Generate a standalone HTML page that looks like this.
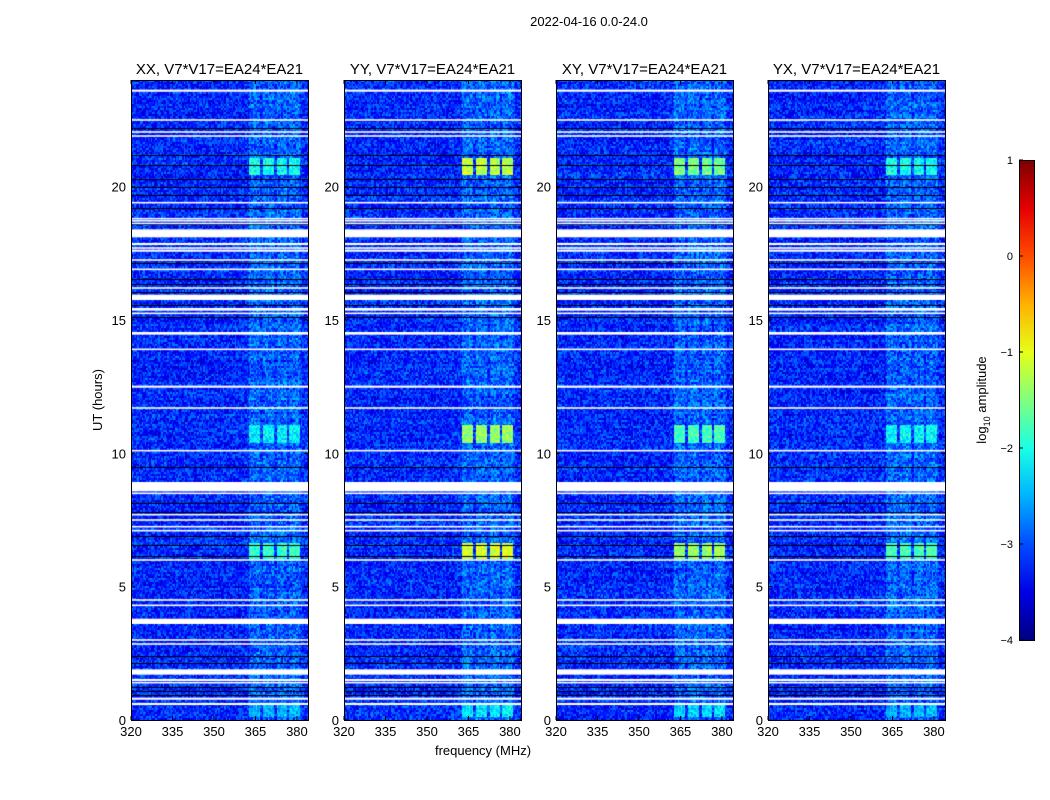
<!DOCTYPE html>
<html><head><meta charset="utf-8"><style>
body{margin:0;background:#fff;width:1050px;height:800px;overflow:hidden;position:relative;font-family:"Liberation Sans",sans-serif}
canvas{position:absolute}
svg{position:absolute;left:0;top:0}
</style></head><body>
<div id="wrap"></div>
<svg id="svg" width="1050" height="800"></svg>
<script>
const panelTitles=["XX, V7*V17=EA24*EA21","YY, V7*V17=EA24*EA21","XY, V7*V17=EA24*EA21","YX, V7*V17=EA24*EA21"];
const panelLefts=[131,344,556,768];
const xTicks=[320,335,350,365,380];
const yTicks=[0,5,10,15,20];
const cbTicks=[1,0,-1,-2,-3,-4];
const flaggedWhite=[[23.6,.08],[22.5,.06],[22.05,.06],[21.9,.06],[19.4,.06],[18.8,.06],[18.72,.05],[18.62,.05],[18.25,.3],[17.85,.08],[17.7,.06],[17.6,.08],[17.25,.06],[16.9,.06],[16.2,.06],[15.85,.2],[15.4,.1],[15.25,.06],[14.5,.1],[13.9,.06],[12.5,.08],[11.7,.06],[10.1,.06],[8.75,.35],[8.5,.06],[7.7,.06],[7.5,.06],[7.25,.06],[7.1,.06],[6.0,.06],[4.5,.06],[4.3,.06],[3.7,.2],[3.0,.06],[2.85,.06],[1.8,.2],[1.5,.08],[1.4,.06],[0.8,.08],[0.6,.08]];
const flaggedDark=[22.2,21.2,20.8,20.3,20.0,19.7,19.2,18.6,17.15,16.55,16.35,16.05,15.95,15.55,15.1,9.5,8.8,8.15,7.8,6.9,6.55,6.15,2.4,2.15,1.25,1.1,0.95];
const bandCenters=[364.5,369.5,374.5,379];
const eventTimes=[[20.45,21.1],[10.4,11.1],[6.05,6.65],[0.15,0.6]];
const eventStrength=[[0.45,0.42,0.48,0.36],[0.62,0.58,0.64,0.42],[0.55,0.5,0.58,0.4],[0.45,0.43,0.5,0.36]];

const W=177,H=640,TOP=80,F0=320,F1=384,T1=24;
const xs=f=>(f-F0)/(F1-F0)*W, ys=t=>H-t/T1*H;
function jet(v){v=Math.max(0,Math.min(1,v));
 const r=Math.min(4*v-1.5,-4*v+4.5),g=Math.min(4*v-0.5,-4*v+3.5),b=Math.min(4*v+0.5,-4*v+2.5);
 return [255*Math.max(0,Math.min(1,r)),255*Math.max(0,Math.min(1,g)),255*Math.max(0,Math.min(1,b))];}
function hash(a,b,c){let h=(a*374761393+b*668265263+c*2147483647)|0;h=(h^(h>>>13))*1274126177|0;return ((h^(h>>>16))>>>0)/4294967296;}
const svg=document.getElementById('svg');const NS="http://www.w3.org/2000/svg";
function el(tag,attrs,name,text){const e=document.createElementNS(NS,tag);for(const k in attrs)e.setAttribute(k,attrs[k]);
 
 
 if(text!==undefined)e.textContent=text;svg.appendChild(e);return e;}
panelLefts.forEach((L,p)=>{
 const c=document.createElement('canvas');c.width=W;c.height=H;c.style.left=L+'px';c.style.top=TOP+'px';
 
 
 document.body.insertBefore(c,svg);
 const ctx=c.getContext('2d');const img=ctx.createImageData(W,H);
 for(let y=0;y<H;y++){const t=(H-y)/H*T1;const row=Math.floor(y/2);
  let ev=0;eventTimes.forEach((e,i)=>{if(t>=e[0]&&t<=e[1])ev=eventStrength[p][i];});
  for(let x=0;x<W;x++){const f=F0+x/W*(F1-F0);const col=Math.floor(x/1.5);
   let v=0.16+(hash(col,row,p)-0.5)*0.18+(hash(row,7,p)-0.5)*0.04;
   if(f>362.5&&f<381.5){v+=0.025;bandCenters.forEach(bc=>{const d=Math.abs(f-bc);if(d<1.9){v+=0.035*hash(row,col,3)+0.02;if(ev)v=Math.max(v,ev-0.06+(hash(col,row,9)-0.5)*0.14);}});}
   const [r,g,b]=jet(v);const i=(y*W+x)*4;img.data[i]=r;img.data[i+1]=g;img.data[i+2]=b;img.data[i+3]=255;}}
 ctx.putImageData(img,0,0);
 flaggedDark.forEach(t=>{ctx.fillStyle='#000';ctx.fillRect(0,Math.round(ys(t)),W,1);});
 flaggedWhite.forEach(([t,w])=>{ctx.fillStyle='#fff';const h=Math.max(1.5,w/T1*H);ctx.fillRect(0,ys(t)-h/2,W,h);});
 el('rect',{x:L+.5,y:TOP+.5,width:W,height:H,fill:'none',stroke:'#000','stroke-width':1},'panel-frame-'+(p+1));
 el('text',{x:L+W/2,y:74,'text-anchor':'middle','font-size':15},'panel-title-'+(p+1),panelTitles[p]);
 xTicks.forEach(v=>{const x=L+xs(v);
  el('line',{x1:x,x2:x,y1:TOP+H,y2:TOP+H-4,stroke:'#000'},'x-tick');
  el('line',{x1:x,x2:x,y1:TOP,y2:TOP+4,stroke:'#000'},'x-tick-top');
  el('text',{x:x,y:736,'text-anchor':'middle','font-size':13},'x-tick-label',v);});
 yTicks.forEach(v=>{const y=TOP+ys(v);
  el('line',{x1:L,x2:L+4,y1:y,y2:y,stroke:'#000'},'y-tick');
  el('line',{x1:L+W,x2:L+W-4,y1:y,y2:y,stroke:'#000'},'y-tick-right');
  el('text',{x:L-5,y:y+5,'text-anchor':'end','font-size':13},'y-tick-label',v);});
});
el('text',{x:589,y:26,'text-anchor':'middle','font-size':13},'figure-title','2022-04-16 0.0-24.0');
el('text',{x:483,y:755,'text-anchor':'middle','font-size':13},'x-axis-title','frequency (MHz)');
el('text',{x:102,y:400,'text-anchor':'middle','font-size':13,transform:'rotate(-90 102 400)'},'y-axis-title','UT (hours)');
const defs=el('defs',{},'defs');
const g=document.createElementNS(NS,'linearGradient');g.setAttribute('id','jg');g.setAttribute('x1','0');g.setAttribute('y1','1');g.setAttribute('x2','0');g.setAttribute('y2','0');defs.appendChild(g);
for(let i=0;i<=10;i++){const [r,gg,b]=jet(i/10);const s=document.createElementNS(NS,'stop');s.setAttribute('offset',i/10);s.setAttribute('stop-color',`rgb(${r|0},${gg|0},${b|0})`);g.appendChild(s);}
el('rect',{x:1019.5,y:160.5,width:15,height:480,fill:'url(#jg)',stroke:'#000'},'colorbar');
cbTicks.forEach(v=>{const y=640-(v+4)/5*480;
 el('line',{x1:1019,x2:1023,y1:y,y2:y,stroke:'#000'},'colorbar-tick');
 el('text',{x:1013,y:y+4,'text-anchor':'end','font-size':11},'colorbar-tick-label',v<0?'\u2212'+(-v):v);});
const lt=el('text',{x:986,y:400,'text-anchor':'middle','font-size':13,transform:'rotate(-90 986 400)'},'colorbar-label','log');
const ts=document.createElementNS(NS,'tspan');ts.setAttribute('font-size','9');ts.setAttribute('dy','4');ts.textContent='10';lt.appendChild(ts);
const ts2=document.createElementNS(NS,'tspan');ts2.setAttribute('dy','-4');ts2.textContent=' amplitude';lt.appendChild(ts2);
</script>
</body></html>
